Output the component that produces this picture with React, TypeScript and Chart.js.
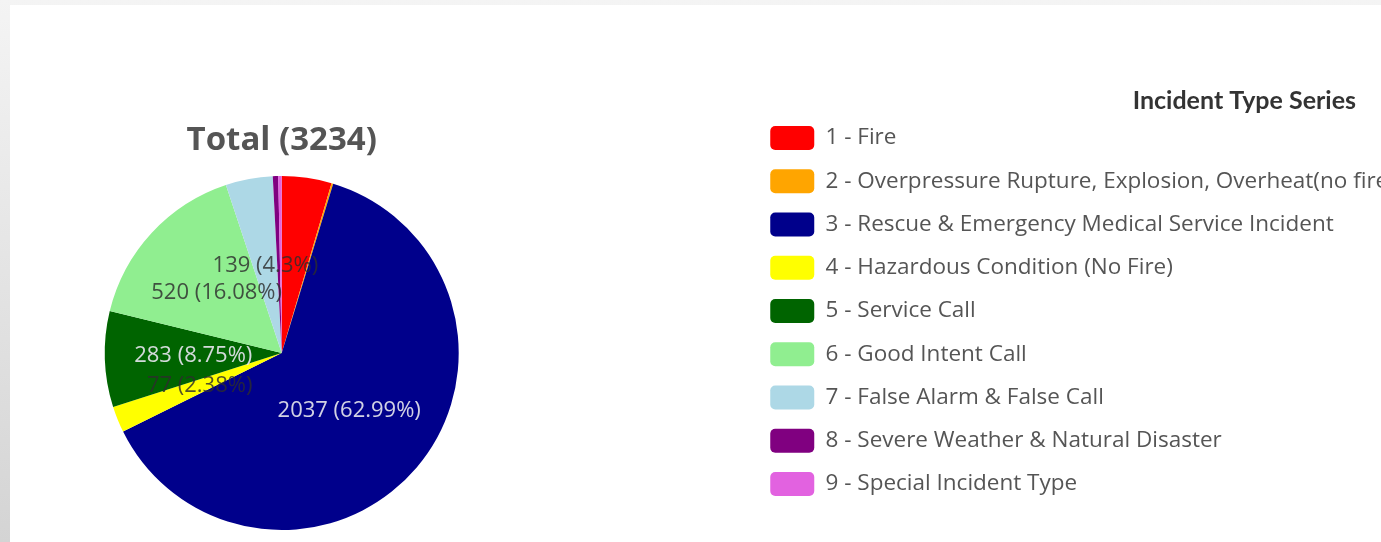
import React, { useEffect, useRef } from 'react';
import { Chart, registerables, layouts } from 'chart.js';

Chart.register(...registerables);

const categories = [
  '1 - Fire',
  '2 - Overpressure Rupture, Explosion, Overheat(no fire)',
  '3 - Rescue & Emergency Medical Service Incident',
  '4 - Hazardous Condition (No Fire)',
  '5 - Service Call',
  '6 - Good Intent Call',
  '7 - False Alarm & False Call',
  '8 - Severe Weather & Natural Disaster',
  '9 - Special Incident Type',
];
const incidentCounts = [147, 5, 2037, 77, 283, 520, 139, 16, 10];
const sliceColors = ['#ff0000', '#ffa500', '#00008b', '#ffff00', '#006400', '#90ee90', '#add8e6', '#800080', '#e262e0'];
const chartTitle = 'Total';
const legendTitle = 'Incident Type Series';

const FONT = '"Open Sans", "Noto Sans", sans-serif';

function isDark(hex: string) {
  const h = hex.replace('#', '');
  const r = parseInt(h.slice(0, 2), 16);
  const g = parseInt(h.slice(2, 4), 16);
  const b = parseInt(h.slice(4, 6), 16);
  return 0.299 * r + 0.587 * g + 0.114 * b < 140;
}

const sliceLabelPlugin = {
  id: 'sliceLabels',
  afterDatasetsDraw(chart: any) {
    const ctx = chart.ctx;
    const meta = chart.getDatasetMeta(0);
    const data = chart.data.datasets[0].data as number[];
    const colors = chart.data.datasets[0].backgroundColor as string[];
    const total = data.reduce((a, b) => a + b, 0);
    ctx.save();
    ctx.font = `22px ${FONT}`;
    ctx.textAlign = 'center';
    ctx.textBaseline = 'middle';
    const placed: { x0: number; y0: number; x1: number; y1: number }[] = [];
    for (let i = data.length - 1; i >= 0; i--) {
      const v = data[i];
      const pct = (v / total) * 100;
      if (pct < 2) continue;
      const text = `${v} (${Math.round(pct * 100) / 100}%)`;
      const p = meta.data[i].getCenterPoint();
      const w = ctx.measureText(text).width;
      const h = 24;
      const r = { x0: p.x - w / 2, y0: p.y - h / 2, x1: p.x + w / 2, y1: p.y + h / 2 };
      const hit = placed.some((q) => r.x0 < q.x1 && r.x1 > q.x0 && r.y0 < q.y1 && r.y1 > q.y0);
      if (hit) continue;
      placed.push(r);
      ctx.fillStyle = isDark(colors[i]) ? 'rgba(228,228,236,0.92)' : 'rgba(45,45,45,0.82)';
      ctx.fillText(text, p.x, p.y);
    }
    ctx.restore();
  },
};

// Extra layout box between the pie area and the legend, plus a wider legend clip
const spacerPlugin = {
  id: 'pieSpacer',
  beforeInit(chart: any) {
    const box: any = {
      position: 'right',
      weight: 0,
      fullSize: false,
      options: {},
      left: 0, top: 0, right: 0, bottom: 0, width: 0, height: 0,
      isHorizontal() { return false; },
      update(_maxWidth: number, maxHeight: number) {
        this.width = 197.6;
        this.height = maxHeight;
      },
      draw() {},
    };
    layouts.addBox(chart, box);
  },
  afterLayout(chart: any) {
    if (chart.legend) chart.legend.right = chart.width;
  },
};

export default function App() {
  const canvasRef = useRef<HTMLCanvasElement | null>(null);

  useEffect(() => {
    if (!canvasRef.current) return;
    const total = incidentCounts.reduce((a, b) => a + b, 0);
    const chart = new Chart(canvasRef.current, {
      type: 'pie',
      data: {
        labels: categories,
        datasets: [
          {
            data: incidentCounts,
            backgroundColor: sliceColors,
            borderWidth: 0,
          },
        ],
      },
      options: {
        animation: false,
        responsive: true,
        maintainAspectRatio: false,
        layout: { padding: { top: 0, bottom: 12, left: 0, right: 35 } },
        plugins: {
          title: {
            display: true,
            text: `${chartTitle} (${total})`,
            fullSize: false,
            color: '#555',
            font: { family: FONT, size: 33, weight: 'bold' },
            padding: { top: 116.2, bottom: 15.2 },
          },
          legend: {
            display: true,
            position: 'right',
            align: 'start',
            maxWidth: 605,
            title: {
              display: true,
              text: legendTitle,
              position: 'end',
              color: '#333',
              font: { family: 'Lato', size: 25, weight: 'bold', lineHeight: 1 },
              padding: { top: 83.5, bottom: -6.75 },
            },
            labels: {
              boxWidth: 44,
              boxHeight: 24,
              padding: 19.25,
              color: '#555',
              useBorderRadius: true,
              borderRadius: 5,
              font: { family: FONT, size: 22.5 },
            },
          },
          tooltip: { enabled: false },
        },
      } as any,
      plugins: [sliceLabelPlugin, spacerPlugin],
    });
    return () => chart.destroy();
  }, []);

  return (
    <div
      style={{
        position: 'fixed',
        inset: 0,
        overflow: 'hidden',
        background: 'linear-gradient(to bottom, #f4f4f4, #d4d4d4)',
      }}
    >
      <div
        style={{
          position: 'absolute',
          left: 10,
          top: 5,
          width: 1381,
          height: 537,
          background: '#ffffff',
        }}
      >
        <canvas ref={canvasRef} />
      </div>
    </div>
  );
}
